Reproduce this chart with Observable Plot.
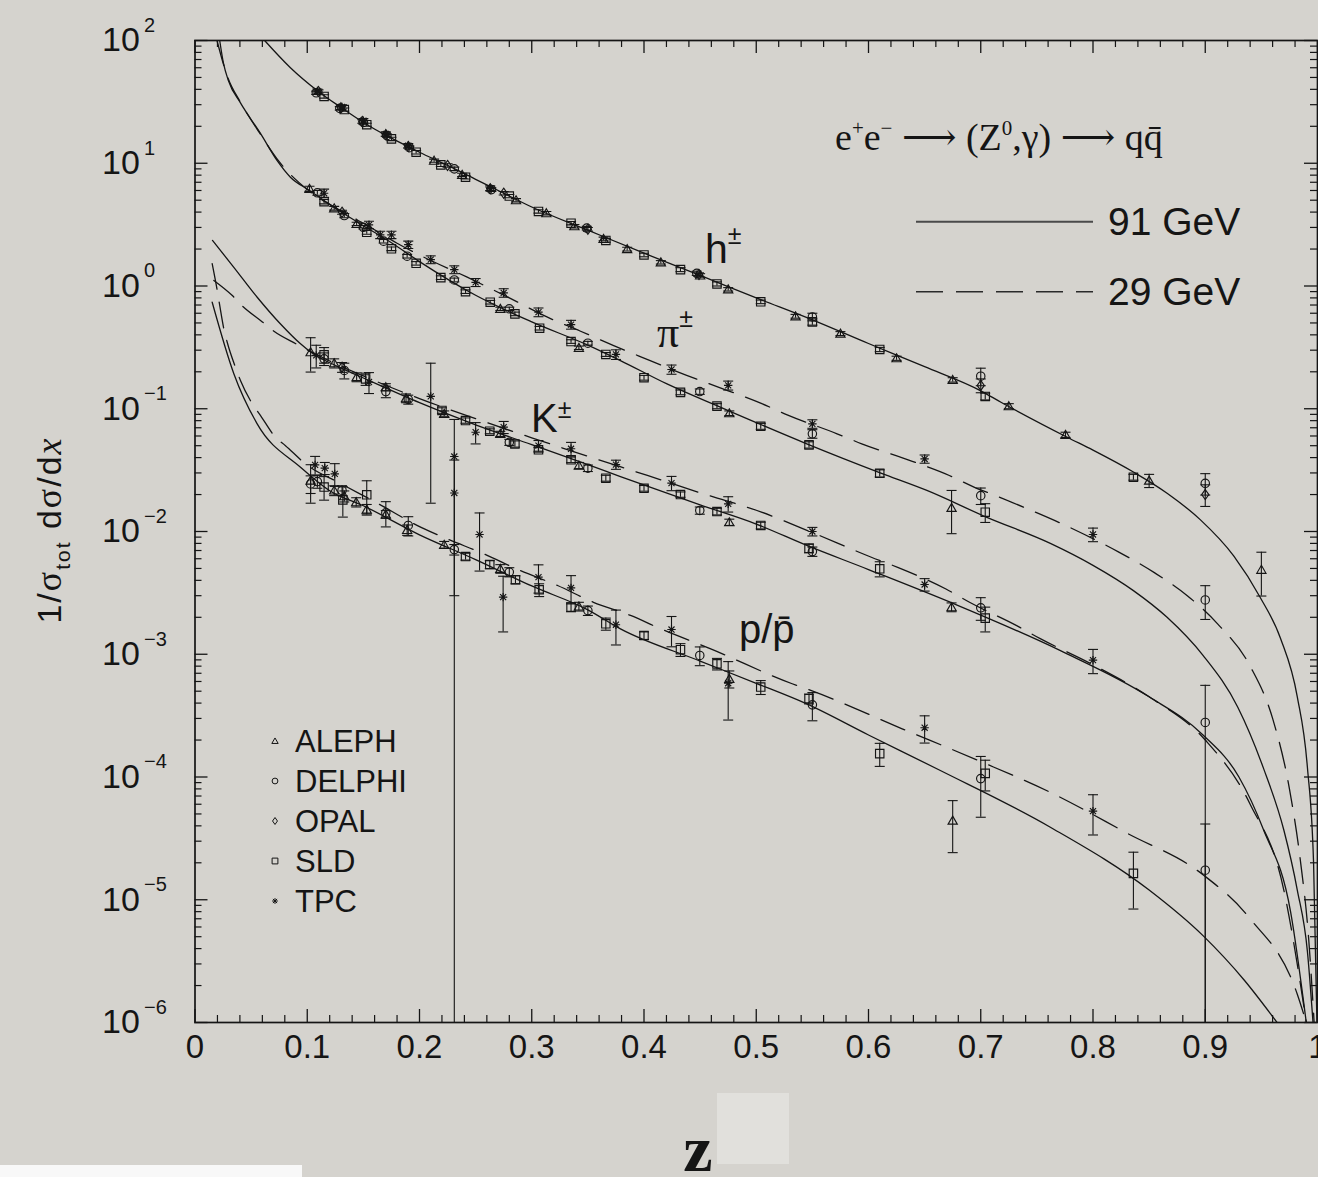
<!DOCTYPE html>
<html>
<head>
<meta charset="utf-8">
<script src="https://cdn.jsdelivr.net/npm/d3@7"></script>
<script src="https://cdn.jsdelivr.net/npm/@observablehq/plot@0.6"></script>
<style>
  html, body { margin: 0; padding: 0; background: #d5d3ce; }
  #chart { position: relative; width: 1318px; height: 1177px; overflow: hidden; }
</style>
</head>
<body>
<div id="chart"></div>
<script>
// ---------- axis ticks ----------
const xMajor = [0, 0.1, 0.2, 0.3, 0.4, 0.5, 0.6, 0.7, 0.8, 0.9, 1];
const xLabels = ["0", "0.1", "0.2", "0.3", "0.4", "0.5", "0.6", "0.7", "0.8", "0.9", "1"];
const yExponents = [-6, -5, -4, -3, -2, -1, 0, 1, 2];
const yExpLabels = ["\u22126", "\u22125", "\u22124", "\u22123", "\u22122", "\u22121", "0", "1", "2"];
const minorMultipliers = [2, 3, 4, 5, 6, 7, 8, 9];

// ---------- model curves: [z, 1/σ dσ/dz] ----------
const h91 = [[0.062,100],[0.085,60],[0.109,39],[0.13,28.5],[0.15,21.5],[0.175,16],[0.2,12.3],[0.225,9.6],[0.25,7.4],[0.275,5.7],[0.3,4.4],[0.35,2.85],[0.4,1.85],[0.45,1.22],[0.5,0.80],[0.55,0.53],[0.6,0.34],[0.65,0.22],[0.7,0.14],[0.718,0.113],[0.777,0.0586],[0.8,0.046],[0.836,0.0305],[0.866,0.0205],[0.8955,0.0125],[0.9255,0.0063],[0.949,0.0029],[0.967,0.00135],[0.982,0.00045],[0.991,0.00012],[0.9965,0.00002],[0.9995,0.000001]];
const pi91 = [[0.022,100],[0.0254,65],[0.0298,47],[0.0405,31],[0.0583,17.5],[0.0732,10.5],[0.085,7.7],[0.102,6.0],[0.125,4.3],[0.15,3.1],[0.175,2.25],[0.2,1.58],[0.25,0.84],[0.3,0.51],[0.35,0.33],[0.379,0.247],[0.42,0.16],[0.468,0.103],[0.545,0.0518],[0.611,0.0299],[0.652,0.0216],[0.705,0.0131],[0.762,0.0080],[0.8,0.0053],[0.836,0.0033],[0.866,0.0020],[0.898,0.00098],[0.929,0.00037],[0.952,0.000117],[0.970,0.000037],[0.982,0.000012],[0.991,0.0000038],[0.996,0.000001]];
const pi29 = [[0.0196,100],[0.0257,62.5],[0.0292,50],[0.0405,31.4],[0.058,17.4],[0.075,10.3],[0.1,6.1],[0.13,4.1],[0.155,3.05],[0.18,2.23],[0.201,1.77],[0.2425,1.18],[0.28,0.80],[0.314,0.557],[0.343,0.43],[0.373,0.327],[0.395,0.27],[0.438,0.187],[0.462,0.155],[0.505,0.11],[0.527,0.0897],[0.572,0.0625],[0.594,0.0518],[0.639,0.0373],[0.672,0.0286],[0.694,0.023],[0.717,0.019],[0.738,0.0158],[0.771,0.0117],[0.792,0.0095],[0.823,0.0068],[0.855,0.0046],[0.884,0.0030],[0.911,0.00177],[0.94,0.0008],[0.96,0.0003],[0.975,0.00008],[0.985,0.00002],[0.992,0.000005],[0.997,0.000001]];
const K91 = [[0.0156,2.35],[0.0346,1.42],[0.0554,0.81],[0.0762,0.49],[0.094,0.338],[0.103,0.29],[0.13,0.215],[0.15,0.178],[0.2,0.112],[0.25,0.074],[0.3,0.051],[0.35,0.035],[0.379,0.028],[0.45,0.0165],[0.5,0.0115],[0.545,0.0077],[0.6,0.0049],[0.676,0.00258],[0.771,0.00107],[0.85,0.00045],[0.898,0.00022],[0.93,0.0001],[0.952,0.000037],[0.976,0.000008],[0.99,0.000001]];
const K29 = [[0.0168,1.11],[0.033,0.84],[0.042,0.69],[0.06,0.51],[0.07,0.43],[0.09,0.338],[0.12,0.245],[0.15,0.185],[0.2,0.121],[0.25,0.083],[0.3,0.058],[0.35,0.041],[0.403,0.0286],[0.458,0.0196],[0.5,0.0149],[0.55,0.0098],[0.602,0.0062],[0.626,0.0051],[0.669,0.0034],[0.69,0.00265],[0.732,0.00171],[0.753,0.00134],[0.8,0.00082],[0.85,0.00045],[0.9,0.0002],[0.94,0.00006],[0.97,0.000012],[0.985,0.000002],[0.99,0.000001]];
const p91 = [[0.0153,0.738],[0.0346,0.193],[0.0554,0.0753],[0.094,0.0334],[0.12,0.0215],[0.15,0.0162],[0.2,0.0094],[0.25,0.0059],[0.3,0.0036],[0.35,0.0023],[0.379,0.00161],[0.45,0.00088],[0.5,0.00058],[0.545,0.000394],[0.6,0.00022],[0.664,0.000113],[0.762,0.000039],[0.85,0.000012],[0.898,0.0000051],[0.935,0.0000022],[0.964,0.000001]];
const p29 = [[0.0153,1.52],[0.0198,0.92],[0.0218,0.716],[0.0257,0.448],[0.0287,0.348],[0.036,0.218],[0.0405,0.17],[0.051,0.11],[0.0584,0.088],[0.0717,0.0586],[0.0806,0.050],[0.0984,0.0356],[0.13,0.0245],[0.16,0.0175],[0.2024,0.0107],[0.2247,0.0087],[0.257,0.0066],[0.29,0.0048],[0.323,0.00363],[0.355,0.00265],[0.388,0.00207],[0.415,0.00161],[0.46,0.0011],[0.532,0.000575],[0.548,0.00051],[0.63,0.000247],[0.698,0.000136],[0.762,0.000075],[0.83,0.000035],[0.898,0.000016],[0.94,0.000007],[0.982,0.0000017],[0.99,0.000001]];

// ---------- measurements: [experiment, z, value, error] ----------
// A = ALEPH, D = DELPHI, O = OPAL, S = SLD, T = TPC
const hData = [
["O",0.110,38.4,1.2],["D",0.108,37.5,1.2],["T",0.109,38.8,1.5],["S",0.115,35.0,1.1],
["O",0.130,28.3,0.9],["D",0.129,28.0,0.9],["T",0.131,28.8,1.1],["S",0.133,27.4,0.8],
["O",0.149,21.9,0.7],["D",0.150,21.5,0.7],["T",0.150,22.2,0.9],["S",0.153,20.6,0.6],
["O",0.170,17.1,0.5],["D",0.171,16.8,0.5],["T",0.170,17.3,0.7],["S",0.175,15.8,0.5],
["O",0.190,13.7,0.4],["D",0.191,13.4,0.4],["T",0.190,13.9,0.6],["S",0.197,12.3,0.4],
["A",0.213,10.5,0.3],["S",0.219,9.7,0.3],["O",0.225,9.6,0.3],["D",0.231,9.0,0.3],
["A",0.238,8.05,0.25],["S",0.241,7.7,0.25],["O",0.263,6.2,0.2],["D",0.264,6.1,0.2],["T",0.263,6.25,0.3],
["O",0.275,5.7,0.18],["S",0.280,5.4,0.17],["A",0.286,5.0,0.15],["S",0.306,4.05,0.13],["A",0.313,3.92,0.12],
["S",0.335,3.25,0.1],["A",0.338,3.07,0.1],["D",0.349,2.96,0.1],["O",0.350,2.9,0.1],
["A",0.364,2.42,0.08],["S",0.366,2.35,0.08],["A",0.385,2.0,0.07],["S",0.400,1.79,0.06],
["A",0.415,1.56,0.05],["S",0.4325,1.36,0.05],["O",0.449,1.24,0.04],["A",0.450,1.22,0.04],["D",0.447,1.27,0.05],
["S",0.465,1.04,0.04],["A",0.475,0.94,0.03],["S",0.504,0.743,0.025],["A",0.535,0.567,0.02],
["D",0.550,0.56,0.04],["S",0.550,0.51,0.03],["A",0.575,0.41,0.015],["S",0.610,0.304,0.012],
["A",0.625,0.258,0.01],["A",0.675,0.172,0.007],["D",0.700,0.184,0.03],["O",0.700,0.155,0.02],
["S",0.704,0.126,0.008],["A",0.725,0.105,0.005],["A",0.7755,0.0614,0.003],["S",0.836,0.0277,0.0015],
["A",0.850,0.026,0.0032],["D",0.900,0.0247,0.0049],["O",0.900,0.020,0.004],["A",0.950,0.00488,0.0019]
];
const piData = [
["A",0.102,6.2,0.3],["D",0.109,5.74,0.25],["T",0.115,5.7,0.45],["S",0.115,4.87,0.2],
["A",0.124,4.3,0.15],["O",0.131,3.99,0.15],["D",0.133,3.75,0.15],["A",0.144,3.21,0.1],
["D",0.150,3.01,0.1],["T",0.155,3.15,0.22],["S",0.153,2.74,0.1],["T",0.165,2.61,0.18],
["T",0.175,2.61,0.18],["D",0.168,2.32,0.08],["S",0.175,2.01,0.07],["T",0.190,2.17,0.15],
["D",0.189,1.75,0.06],["S",0.197,1.53,0.05],["T",0.210,1.64,0.12],["T",0.231,1.36,0.1],
["S",0.219,1.17,0.04],["D",0.231,1.12,0.04],["S",0.241,0.90,0.03],["T",0.250,1.07,0.08],
["S",0.263,0.738,0.025],["A",0.272,0.652,0.02],["D",0.280,0.652,0.02],["S",0.285,0.593,0.02],
["T",0.275,0.88,0.07],["T",0.306,0.612,0.05],["S",0.307,0.453,0.015],["T",0.335,0.485,0.04],
["S",0.335,0.353,0.012],["A",0.342,0.314,0.01],["D",0.350,0.342,0.012],["S",0.366,0.277,0.01],
["T",0.375,0.277,0.025],["S",0.400,0.179,0.008],["T",0.4245,0.209,0.018],["S",0.4325,0.136,0.006],
["D",0.4497,0.138,0.007],["T",0.475,0.155,0.013],["S",0.465,0.105,0.005],["A",0.476,0.092,0.004],
["S",0.504,0.072,0.004],["T",0.550,0.0753,0.006],["D",0.550,0.0625,0.005],["S",0.547,0.0508,0.003],
["S",0.610,0.0298,0.002],["T",0.650,0.039,0.003],["A",0.674,0.0156,0.006],["D",0.700,0.0196,0.003],
["S",0.704,0.01435,0.0025],["T",0.800,0.00946,0.0012],["D",0.900,0.00277,0.00085]
];
const KData = [
["A",0.103,0.289,0.09],["T",0.108,0.272,0.057],["S",0.115,0.275,0.04],["D",0.115,0.255,0.03],
["A",0.124,0.235,0.02],["O",0.131,0.218,0.02],["D",0.133,0.205,0.03],["A",0.144,0.181,0.015],
["S",0.152,0.175,0.02],["T",0.155,0.165,0.032],["D",0.170,0.138,0.015],["A",0.170,0.150,0.01],
["D",0.190,0.119,0.01],["A",0.188,0.122,0.01],["T",0.210,0.126,0.109],["S",0.220,0.0968,0.005],
["A",0.222,0.091,0.005],["T",0.231,0.0408,0.041],["S",0.241,0.0802,0.004],["T",0.250,0.0644,0.0127],
["S",0.2626,0.0656,0.003],["A",0.272,0.0625,0.003],["T",0.275,0.0708,0.008],["D",0.280,0.0533,0.003],
["S",0.285,0.0517,0.003],["T",0.306,0.0501,0.005],["S",0.306,0.0463,0.002],["T",0.335,0.0472,0.006],
["S",0.335,0.0384,0.002],["A",0.342,0.0345,0.002],["D",0.350,0.0328,0.002],["S",0.366,0.0272,0.0015],
["T",0.375,0.0351,0.003],["S",0.400,0.0225,0.0012],["T",0.4245,0.0248,0.0033],["S",0.4325,0.020,0.001],
["D",0.4497,0.01483,0.001],["S",0.465,0.01455,0.0009],["T",0.475,0.0168,0.0024],["A",0.476,0.0119,0.0007],
["S",0.504,0.0112,0.0007],["T",0.550,0.0100,0.0008],["S",0.547,0.0073,0.0006],["D",0.550,0.00687,0.0006],
["S",0.610,0.00497,0.0007],["T",0.650,0.0037,0.00043],["A",0.674,0.00242,0.0002],["D",0.700,0.00239,0.0005],
["S",0.704,0.00197,0.00045],["T",0.800,0.000895,0.0002],["D",0.900,0.000278,0.00028]
];
const pData = [
["T",0.107,0.0349,0.006],["T",0.1156,0.0328,0.0037],["T",0.1245,0.0295,0.0062],["A",0.103,0.026,0.009],
["D",0.103,0.0244,0.004],["D",0.109,0.0255,0.003],["S",0.115,0.023,0.005],["A",0.124,0.0216,0.002],
["D",0.131,0.0216,0.002],["S",0.1317,0.0181,0.005],["A",0.133,0.0194,0.002],["A",0.1436,0.01734,0.0015],
["S",0.153,0.0199,0.006],["A",0.153,0.0151,0.0015],["D",0.170,0.0142,0.0033],["A",0.170,0.0138,0.001],
["D",0.190,0.0112,0.002],["A",0.189,0.0103,0.001],["A",0.222,0.0078,0.0005],["D",0.231,0.00713,0.0007],
["T",0.231,0.0206,0.0176],["T",0.2535,0.00946,0.0047],["S",0.241,0.00625,0.0004],["S",0.2626,0.00538,0.0004],
["A",0.272,0.00497,0.0004],["T",0.2745,0.00292,0.0014],["D",0.280,0.00467,0.0004],["S",0.2855,0.00405,0.0003],
["T",0.306,0.00425,0.0011],["S",0.3066,0.00335,0.0004],["T",0.335,0.00347,0.0009],["S",0.335,0.00242,0.0002],
["A",0.342,0.00245,0.0002],["D",0.350,0.00227,0.0002],["S",0.366,0.00177,0.0002],["T",0.375,0.00174,0.00055],
["S",0.400,0.00142,0.0001],["T",0.4245,0.00159,0.00044],["S",0.4325,0.00109,0.00013],["D",0.4497,0.000977,0.00017],
["S",0.465,0.000835,0.00009],["A",0.476,0.000631,0.0001],["T",0.475,0.000581,0.00029],["S",0.504,0.00054,0.00007],
["S",0.547,0.000434,0.00004],["D",0.550,0.000387,0.0001],["S",0.610,0.000155,0.000033],["T",0.650,0.000252,0.000063],
["A",0.675,0.0000442,0.00002],["D",0.700,0.000097,0.00005],["S",0.704,0.000107,0.00003],["T",0.800,0.0000527,0.000019],
["S",0.836,0.0000164,0.000008],["D",0.900,0.0000174,0.000024]
];

const experiments = ["A", "D", "O", "S", "T"];
const experimentNames = ["ALEPH", "DELPHI", "OPAL", "SLD", "TPC"];

// ---------- styling ----------
const ink = "#151515";
const sans = "'Liberation Sans', Arimo, Arial, Helvetica, sans-serif";
const serif = "'Liberation Serif', 'Times New Roman', Times, serif";

// open marker shapes (size arrives as an area, as Plot passes π r²)
const rOf = s => Math.sqrt(s / Math.PI);
const triangleOpen = {draw(c, s) { const r = rOf(s); c.moveTo(0, -1.05 * r); c.lineTo(1.1 * r, 0.85 * r); c.lineTo(-1.1 * r, 0.85 * r); c.closePath(); }};
const circleOpen = {draw(c, s) { const r = rOf(s); c.moveTo(r, 0); c.arc(0, 0, r, 0, 2 * Math.PI); }};
const diamondOpen = {draw(c, s) { const r = rOf(s); c.moveTo(0, -1.2 * r); c.lineTo(0.85 * r, 0); c.lineTo(0, 1.2 * r); c.lineTo(-0.85 * r, 0); c.closePath(); }};
const squareOpen = {draw(c, s) { const r = rOf(s); c.rect(-r, -r, 2 * r, 2 * r); }};
const starTPC = {draw(c, s) { const r = rOf(s), d = r * 0.72; c.moveTo(-r, 0); c.lineTo(r, 0); c.moveTo(0, -r); c.lineTo(0, r); c.moveTo(-d, -d); c.lineTo(d, d); c.moveTo(-d, d); c.lineTo(d, -d); }};
const capBar = {draw(c) { c.moveTo(-5, 0); c.lineTo(5, 0); }};
const symbolOf = {A: triangleOpen, D: circleOpen, O: diamondOpen, S: squareOpen, T: starTPC};

// ---------- derived tables ----------
const points = [hData, piData, KData, pData].flatMap(rows => rows.map(([exp, z, v, e]) => ({exp, z, v, e})));
const withErr = points.filter(d => d.e > 0);
const yMajor = yExponents.map(k => Math.pow(10, k));
const yMinor = yExponents.slice(0, -1).flatMap(k => minorMultipliers.map(m => m * Math.pow(10, k)));
const xMinor = d3.range(0, 51).map(i => i / 50).filter(v => Math.round(v * 50) % 5 !== 0);

const curves = [
  {data: h91, dash: false}, {data: pi91, dash: false}, {data: pi29, dash: true},
  {data: K91, dash: false}, {data: K29, dash: true}, {data: p91, dash: false}, {data: p29, dash: true}
];

// ---------- layout ----------
const W = 1318, H = 1177, mt = 40, mb = 155, ml = 194.5, mr = 1;
const fh = H - mt - mb, fw = W - ml - mr;
const bigTick = 13, smallTick = 7;

const chart = Plot.plot({
  width: W, height: H,
  marginTop: mt, marginBottom: mb, marginLeft: ml, marginRight: mr,
  x: {domain: [0, 1], axis: null},
  y: {type: "log", domain: [1e-6, 1e2], axis: null},
  style: {background: "transparent", fontFamily: sans, color: ink, overflow: "visible"},
  marks: [
    // model curves
    ...curves.map(c => Plot.line(c.data, {
      x: d => d[0], y: d => d[1], curve: "monotone-x",
      stroke: ink, strokeWidth: 1.3, clip: true,
      ...(c.dash ? {strokeDasharray: "26,13"} : {})
    })),
    // error bars with caps
    Plot.ruleX(withErr, {x: "z", y1: d => Math.max(d.v - d.e, 5e-7), y2: d => d.v + d.e, stroke: ink, strokeWidth: 1.1, clip: true}),
    Plot.dot(withErr, {x: "z", y: d => d.v + d.e, symbol: capBar, r: 3, stroke: ink, strokeWidth: 1.1, fill: "none", clip: true}),
    Plot.dot(withErr.filter(d => d.v - d.e > 1e-6), {x: "z", y: d => d.v - d.e, symbol: capBar, r: 3, stroke: ink, strokeWidth: 1.1, fill: "none", clip: true}),
    // markers, one mark per experiment
    ...experiments.map(ex => Plot.dot(points.filter(d => d.exp === ex), {
      x: "z", y: "v", symbol: symbolOf[ex], r: 4.2, stroke: ink, strokeWidth: 1.15, fill: "none", clip: true
    })),
    // inward ticks on all four sides
    Plot.ruleX(xMajor, {x: d => d, insetTop: fh - bigTick, stroke: ink, strokeWidth: 1.3}),
    Plot.ruleX(xMajor, {x: d => d, insetBottom: fh - bigTick, stroke: ink, strokeWidth: 1.3}),
    Plot.ruleX(xMinor, {x: d => d, insetTop: fh - smallTick, stroke: ink, strokeWidth: 1.2}),
    Plot.ruleX(xMinor, {x: d => d, insetBottom: fh - smallTick, stroke: ink, strokeWidth: 1.2}),
    Plot.ruleY(yMajor, {y: d => d, insetRight: fw - bigTick, stroke: ink, strokeWidth: 1.3}),
    Plot.ruleY(yMajor, {y: d => d, insetLeft: fw - bigTick, stroke: ink, strokeWidth: 1.3}),
    Plot.ruleY(yMinor, {y: d => d, insetRight: fw - smallTick, stroke: ink, strokeWidth: 1.2}),
    Plot.ruleY(yMinor, {y: d => d, insetLeft: fw - smallTick, stroke: ink, strokeWidth: 1.2}),
    Plot.frame({stroke: ink, strokeWidth: 1.7}),
    // tick labels
    Plot.text(xMajor, {x: d => d, text: (d, i) => xLabels[i], frameAnchor: "bottom", dy: 35, fontSize: 33, fill: ink}),
    Plot.text(yMajor, {y: d => d, text: () => "10", frameAnchor: "left", dx: -93, textAnchor: "start", fontSize: 34, fill: ink}),
    Plot.text(yMajor, {y: d => d, text: (d, i) => yExpLabels[i], frameAnchor: "left", dx: -51, dy: -15, textAnchor: "start", fontSize: 20, fill: ink})
  ]
});

document.getElementById("chart").appendChild(chart);

// ---------- annotations ----------
const svg = d3.select(chart);

// light patches in the lower margin
svg.insert("rect", ":first-child").attr("x", 717).attr("y", 1093).attr("width", 72).attr("height", 71).attr("fill", "#e1e0dc");
svg.insert("rect", ":first-child").attr("x", 0).attr("y", 1165).attr("width", 302).attr("height", 12).attr("fill", "#f8f8f8");

// text built from pieces; shift moves the baseline (negative = raised)
function rich(parent, x, y, parts, attrs = {}) {
  const t = parent.append("text").attr("x", x).attr("y", y).attr("fill", ink).attr("text-anchor", "start");
  for (const [k, v] of Object.entries(attrs)) t.attr(k, v);
  let cur = 0;
  for (const p of parts) {
    const s = t.append("tspan").text(p.t);
    const shift = p.shift || 0;
    if (shift !== cur) s.attr("dy", shift - cur);
    cur = shift;
    if (p.size) s.attr("font-size", p.size);
    if (p.family) s.attr("font-family", p.family);
    if (p.style) s.attr("font-style", p.style);
    if (p.dx) s.attr("dx", p.dx);
  }
  return t;
}

const ann = svg.append("g").attr("text-anchor", "start");

// process
rich(ann, 835, 150, [
  {t: "e"}, {t: "+", size: 21, shift: -15}, {t: "e"}, {t: "\u2212", size: 21, shift: -15},
  {t: " \u27f6 (Z"}, {t: "0", size: 21, shift: -15}, {t: ",\u03b3) \u27f6 qq\u0304"}
], {"font-family": "'Liberation Serif', 'DejaVu Serif', serif", "font-size": 38});

// energy legend
ann.append("line").attr("x1", 916).attr("x2", 1093).attr("y1", 221.7).attr("y2", 221.7).attr("stroke", "#4a4a4a").attr("stroke-width", 2);
ann.append("line").attr("x1", 916).attr("x2", 1093).attr("y1", 291.7).attr("y2", 291.7).attr("stroke", "#2a2a2a").attr("stroke-width", 1.6).attr("stroke-dasharray", "27,13");
rich(ann, 1108, 235, [{t: "91 GeV"}], {"font-family": sans, "font-size": 39});
rich(ann, 1108, 305, [{t: "29 GeV"}], {"font-family": sans, "font-size": 39});

// particle labels
rich(ann, 705, 263, [{t: "h"}, {t: "\u00b1", size: 25, shift: -19}], {"font-family": sans, "font-size": 41});
rich(ann, 657, 347, [{t: "\u03c0", family: serif, size: 44}, {t: "\u00b1", size: 25, shift: -20}], {"font-family": sans, "font-size": 41});
rich(ann, 531, 432, [{t: "K"}, {t: "\u00b1", size: 25, shift: -14}], {"font-family": sans, "font-size": 40});
rich(ann, 739, 643, [{t: "p/p\u0304"}], {"font-family": sans, "font-size": 40});

// experiment legend
const legendG = ann.append("g");
experiments.forEach((ex, i) => {
  const cy = 741 + 40 * i;
  legendG.append("path")
    .attr("transform", `translate(275,${cy})`)
    .attr("d", d3.symbol().type(symbolOf[ex]).size(Math.PI * 2.9 * 2.9)())
    .attr("fill", "none").attr("stroke", ink).attr("stroke-width", 1);
  rich(legendG, 295, cy + 11, [{t: experimentNames[i]}], {"font-family": sans, "font-size": 31});
});

// axis titles
const yTitle = ann.append("g").attr("transform", "translate(61,530) rotate(-90)");
rich(yTitle, 0, 0, [
  {t: "1/"}, {t: "\u03c3", family: serif, size: 36}, {t: "tot", size: 21, shift: 9},
  {t: " d"}, {t: "\u03c3", family: serif, size: 36}, {t: "/d"}, {t: "x", family: serif, style: "italic", size: 36}
], {"font-family": sans, "font-size": 34, "text-anchor": "middle", "letter-spacing": 2});

rich(ann, 698, 1171, [{t: "z"}], {"font-family": serif, "font-size": 66, "font-weight": "bold", "text-anchor": "middle"});
</script>
</body>
</html>
